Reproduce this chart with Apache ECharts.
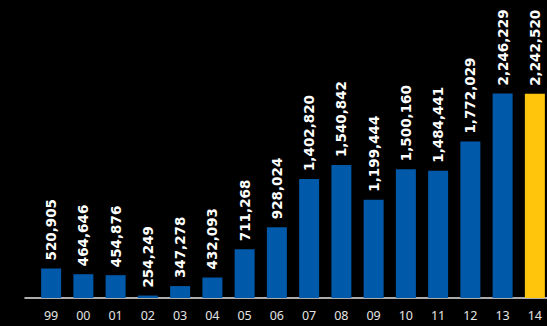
<!DOCTYPE html>
<html>
<head>
<meta charset="utf-8">
<script src="https://cdn.jsdelivr.net/npm/echarts@6/dist/echarts.min.js"></script>
<style>
  html, body { margin: 0; padding: 0; background: #000; }
  #chart { width: 547px; height: 326px; }
</style>
</head>
<body>
<div id="chart"></div>
<script>
// Yearly totals, 1999 to 2014
const years = ['99', '00', '01', '02', '03', '04', '05', '06', '07', '08', '09', '10', '11', '12', '13', '14'];
const totals = [520905, 464646, 454876, 254249, 347278, 432093, 711268, 928024,
                1402820, 1540842, 1199444, 1500160, 1484441, 1772029, 2246229, 2242520];
const highlightYear = '14';

const BLUE = '#0059a9';
const YELLOW = '#ffc40c';

const chart = echarts.init(document.getElementById('chart'), null, { renderer: 'svg' });

const barData = totals.map((v, i) => ({
  value: v,
  itemStyle: { color: years[i] === highlightYear ? YELLOW : BLUE }
}));

chart.setOption({
  backgroundColor: '#000',
  animation: false,
  grid: [
    { left: 35, right: -4, top: 17, bottom: 28, outerBoundsMode: 'none', containLabel: false },
    // wider band used only for the baseline rule
    { left: 25, right: 0, top: 17, bottom: 28, outerBoundsMode: 'none', containLabel: false }
  ],
  xAxis: [
    {
      type: 'category',
      gridIndex: 0,
      data: years,
      axisLine: { show: false },
      axisTick: { show: false },
      axisLabel: {
        color: '#e4e4e4',
        fontFamily: 'Noto Sans',
        fontSize: 12.5,
        margin: 11
      }
    },
    {
      type: 'value',
      gridIndex: 1,
      min: 0,
      max: 1,
      axisLine: { show: true, lineStyle: { color: '#e6e6e6', width: 1.6 } },
      axisTick: { show: false },
      axisLabel: { show: false },
      splitLine: { show: false }
    }
  ],
  yAxis: [
    {
      type: 'value',
      gridIndex: 0,
      min: 230000,
      max: 3000000,
      startValue: 230000,
      show: false,
      splitLine: { show: false }
    },
    {
      type: 'value',
      gridIndex: 1,
      show: false,
      splitLine: { show: false }
    }
  ],
  series: [{
    type: 'bar',
    xAxisIndex: 0,
    yAxisIndex: 0,
    data: barData,
    barWidth: 20,
    clip: true,
    label: {
      show: true,
      position: 'top',
      rotate: 90,
      align: 'left',
      verticalAlign: 'middle',
      distance: 8,
      color: '#ffffff',
      fontFamily: 'DejaVu Sans',
      fontWeight: 'bold',
      fontSize: 13.5,
      formatter: p => p.value.toLocaleString('en-US')
    }
  }]
});
</script>
</body>
</html>
